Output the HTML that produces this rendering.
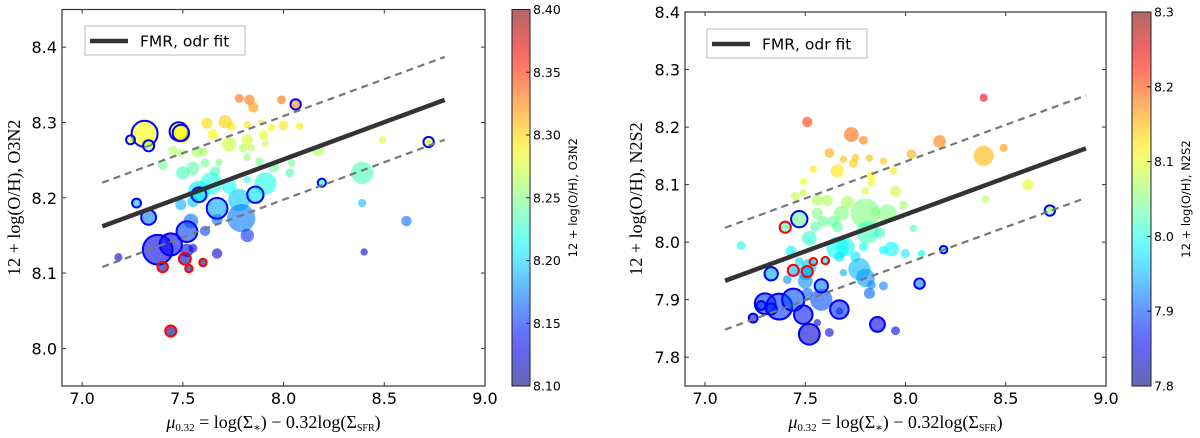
<!DOCTYPE html>
<html><head><meta charset="utf-8">
<style>
html,body{margin:0;padding:0;background:#fff;}
svg{display:block;}
.tick{font-family:"DejaVu Sans","Liberation Sans",sans-serif;font-size:16px;fill:#000;}
.cbt{font-family:"DejaVu Sans","Liberation Sans",sans-serif;font-size:12.5px;fill:#000;}
.lab{font-family:"Liberation Serif","DejaVu Serif",serif;font-size:18px;fill:#000;}
.cbl{font-family:"DejaVu Sans","Liberation Sans",sans-serif;font-size:11.5px;fill:#000;}
.leg{font-family:"DejaVu Sans","Liberation Sans",sans-serif;font-size:15.5px;fill:#000;}
</style></head>
<body>
<svg id="fig" width="1200" height="438" viewBox="0 0 1200 438" xmlns="http://www.w3.org/2000/svg"></svg>
<script>
// ---------- DATA ----------
const xTicks = [7.0, 7.5, 8.0, 8.5, 9.0];
const xTickLabels = ["7.0", "7.5", "8.0", "8.5", "9.0"];
const leftYTicks = [8.0, 8.1, 8.2, 8.3, 8.4];
const leftYTickLabels = ["8.0", "8.1", "8.2", "8.3", "8.4"];
const leftCbTicks = [8.10, 8.15, 8.20, 8.25, 8.30, 8.35, 8.40];
const leftCbLabels = ["8.10", "8.15", "8.20", "8.25", "8.30", "8.35", "8.40"];
const rightYTicks = [7.8, 7.9, 8.0, 8.1, 8.2, 8.3, 8.4];
const rightYTickLabels = ["7.8", "7.9", "8.0", "8.1", "8.2", "8.3", "8.4"];
const rightCbTicks = [7.8, 7.9, 8.0, 8.1, 8.2, 8.3];
const rightCbLabels = ["7.8", "7.9", "8.0", "8.1", "8.2", "8.3"];

// fit lines: [x0, y0, x1, y1]
const leftFit = [7.1, 8.162, 8.8, 8.330];
const leftUpper = [7.1, 8.220, 8.8, 8.387];
const leftLower = [7.1, 8.108, 8.8, 8.277];
const rightFit = [7.1, 7.933, 8.9, 8.163];
const rightUpper = [7.1, 8.025, 8.9, 8.255];
const rightLower = [7.1, 7.848, 8.9, 8.077];

// points: [x, y, size]
const leftPlain = [
[7.78,8.332,12],[7.83,8.33,14],[7.85,8.32,14],[7.99,8.33,12],[7.62,8.299,15],[7.71,8.301,18],[7.74,8.295,12],
[7.82,8.297,10],[7.89,8.30,8],[7.94,8.293,10],[8.0,8.296,13],[8.08,8.295,10],[7.65,8.284,15],[7.73,8.271,20],
[7.82,8.277,15],[7.9,8.283,13],[7.91,8.272,9],[7.51,8.277,12],[7.45,8.263,12],[7.49,8.259,10],[7.57,8.261,15],
[7.6,8.261,12],[7.8,8.266,12],[7.84,8.266,10],[7.4,8.244,14],[7.5,8.233,18],[7.55,8.239,18],[7.61,8.246,12],
[7.66,8.235,14],[7.68,8.247,10],[7.82,8.254,10],[7.88,8.248,12],[7.95,8.241,15],[8.04,8.246,10],[8.03,8.233,12],
[8.17,8.263,15],[8.49,8.277,10],[8.39,8.233,30],[7.58,8.208,30],[7.64,8.219,30],[7.73,8.215,20],[7.82,8.224,10],
[7.91,8.219,30],[7.49,8.191,15],[7.55,8.195,15],[7.78,8.197,30],[7.79,8.173,38],[7.67,8.171,15],[7.54,8.169,20],
[7.61,8.156,14],[7.82,8.15,18],[7.55,8.133,12],[7.67,8.126,14],[7.18,8.121,11],[8.39,8.193,11],[8.61,8.169,14],
[8.40,8.128,10],[7.52,8.13,18]
];
const leftBlue = [
[7.31,8.285,35],[7.24,8.277,12],[7.33,8.269,15],[7.48,8.288,25],[7.49,8.286,22],[8.06,8.324,14],[8.72,8.274,14],
[8.19,8.22,11],[7.27,8.193,12],[7.33,8.174,20],[7.58,8.204,20],[7.67,8.186,28],[7.86,8.204,22],[7.52,8.155,28],
[7.375,8.131,40],[7.44,8.138,30]
];
const leftRed = [
[7.40,8.108,14],[7.51,8.119,16],[7.53,8.106,10],[7.60,8.114,10],[7.44,8.023,15]
];
const rightPlain = [
[8.39,8.251,11],[7.51,8.209,14],[7.73,8.187,20],[7.79,8.177,12],[8.17,8.175,17],[8.39,8.15,27],[8.49,8.164,11],
[7.62,8.155,13],[7.69,8.144,10],[7.75,8.147,10],[7.82,8.146,10],[7.89,8.141,10],[8.03,8.153,13],[7.66,8.124,18],
[7.74,8.137,12],[7.54,8.127,10],[7.83,8.115,12],[7.94,8.124,10],[7.49,8.105,10],[7.83,8.103,10],[8.61,8.099,15],
[7.45,8.08,12],[7.49,8.086,10],[7.8,8.089,10],[7.95,8.088,15],[8.4,8.075,10],[7.56,8.073,15],[7.61,8.072,15],
[7.71,8.069,18],[7.8,8.05,40],[7.85,8.053,12],[7.91,8.05,25],[7.99,8.064,12],[7.68,8.05,20],[7.56,8.05,15],
[7.59,8.036,15],[7.64,8.036,15],[7.66,8.027,15],[7.55,8.027,14],[7.52,8.007,20],[7.81,8.017,30],[7.87,8.016,15],
[7.79,7.992,12],[7.66,7.99,30],[7.7,7.992,25],[7.67,7.975,14],[7.75,7.975,14],[7.89,7.986,12],[7.93,7.988,20],
[7.999,7.98,12],[8.08,7.98,10],[8.04,8.024,10],[7.18,7.994,12],[7.43,7.984,15],[7.47,7.966,12],[7.5,7.947,20],
[7.52,7.958,20],[7.41,7.935,12],[7.5,7.932,20],[7.77,7.953,30],[7.8,7.938,25],[7.69,7.947,10],[7.83,7.926,12],
[7.89,7.924,12],[7.82,7.911,15],[7.58,7.9,30],[7.51,7.911,15],[7.56,7.86,10],[7.62,7.843,12],[7.95,7.846,12],
[7.67,7.88,10]
];
const rightBlue = [
[7.47,8.04,22],[7.33,7.945,18],[7.58,7.924,18],[7.67,7.883,25],[7.86,7.857,20],[8.07,7.928,14],[8.19,7.987,10],
[8.72,8.055,14],[7.24,7.868,12],[7.30,7.893,28],[7.28,7.89,12],[7.37,7.888,35],[7.44,7.9,30],[7.49,7.874,25],
[7.52,7.84,28],[7.33,7.884,15]
];
const rightRed = [
[7.40,8.026,15],[7.44,7.951,15],[7.51,7.949,15],[7.54,7.966,10],[7.60,7.968,10]
];

// ---------- RENDER ----------
const NS = "http://www.w3.org/2000/svg";
const svg = document.getElementById('fig');
function mk(tag, attrs, parent){
  const e = document.createElementNS(NS, tag);
  for (const k in attrs) e.setAttribute(k, attrs[k]);
  (parent||svg).appendChild(e);
  return e;
}
function jet(t){
  t = Math.max(0, Math.min(1, t));
  const r = Math.max(0, Math.min(1, 1.5 - Math.abs(4*t - 3)));
  const g = Math.max(0, Math.min(1, 1.5 - Math.abs(4*t - 2)));
  const b = Math.max(0, Math.min(1, 1.5 - Math.abs(4*t - 1)));
  return `rgb(${Math.round(r*255)},${Math.round(g*255)},${Math.round(b*255)})`;
}
const SIZE_DIV = 2.7;

function panel(cfg){
  const g = mk('g', {});
  
  
  const {L,R,T,B,x0,x1,y0,y1} = cfg;
  const sx = v => L + (v - x0) / (x1 - x0) * (R - L);
  const sy = v => B - (v - y0) / (y1 - y0) * (B - T);
  const clipId = cfg.name + '-clip';
  const cp = mk('clipPath', {id: clipId}, g);
  mk('rect', {x:L, y:T, width:R-L, height:B-T}, cp);

  const pg = mk('g', {'clip-path': `url(#${clipId})`}, g);
  
  
  const drawSet = (arr, edge, label) => {
    arr.forEach(p => {
      const c = mk('circle', {cx: sx(p[0]), cy: sy(p[1]), r: p[2]/SIZE_DIV,
        fill: jet((p[1]-cfg.c0)/(cfg.c1-cfg.c0)), 'fill-opacity': 0.6,
        stroke: edge || 'none', 'stroke-width': edge ? 2 : 0}, pg);
      
      
    });
  };
  drawSet(cfg.plain, null, 'data-point');
  drawSet(cfg.blue, '#0000ff', 'blue-edged-point');
  drawSet(cfg.red, '#ff0000', 'red-edged-point');

  const ln = (a, st, nm) => {
    const l = mk('line', Object.assign({x1:sx(a[0]), y1:sy(a[1]), x2:sx(a[2]), y2:sy(a[3])}, st), g);
    
    
  };
  ln(cfg.upper, {stroke:'#777', 'stroke-width':2.2, 'stroke-dasharray':'7,5'}, 'upper-scatter-line');
  ln(cfg.lower, {stroke:'#777', 'stroke-width':2.2, 'stroke-dasharray':'7,5'}, 'lower-scatter-line');
  ln(cfg.fit, {stroke:'#333', 'stroke-width':4.5}, 'fmr-fit-line');

  const fr = mk('rect', {x:L, y:T, width:R-L, height:B-T, fill:'none', stroke:'#333', 'stroke-width':1.2}, g);
  
  

  xTicks.forEach((v,i) => {
    const X = sx(v);
    mk('line', {x1:X, y1:B, x2:X, y2:B-4, stroke:'#333'}, g);
    mk('line', {x1:X, y1:T, x2:X, y2:T+4, stroke:'#333'}, g);
    const t = mk('text', {x:X, y:B+18, 'text-anchor':'middle', class:'tick'}, g);
    t.textContent = xTickLabels[i];
    
    
  });
  cfg.yTicks.forEach((v,i) => {
    const Y = sy(v);
    mk('line', {x1:L, y1:Y, x2:L+4, y2:Y, stroke:'#333'}, g);
    mk('line', {x1:R, y1:Y, x2:R-4, y2:Y, stroke:'#333'}, g);
    const t = mk('text', {x:L-5, y:Y+6, 'text-anchor':'end', class:'tick'}, g);
    t.textContent = cfg.yLabels[i];
    
    
  });

  const xl = mk('text', {x:(L+R)/2, y:B+42, 'text-anchor':'middle', class:'lab'}, g);
  
  
  xl.innerHTML = '<tspan font-style="italic">μ</tspan><tspan font-size="11" dy="3">0.32</tspan><tspan dy="-3"> = log(Σ</tspan><tspan font-size="11" dy="3">∗</tspan><tspan dy="-3">) − 0.32log(Σ</tspan><tspan font-size="10" dy="3">SFR</tspan><tspan dy="-3">)</tspan>';
  const yl = mk('text', {x:0, y:0, 'text-anchor':'middle', class:'lab',
    transform:`translate(${cfg.ylx},${(T+B)/2}) rotate(-90)`}, g);
  yl.textContent = cfg.ylabel;
  
  

  const lg = mk('g', {}, g);
  
  
  mk('rect', {x:cfg.lgx, y:cfg.lgy, width:160, height:29, fill:'#fff', stroke:'#bbb', 'stroke-width':1}, lg);
  mk('line', {x1:cfg.lgx+5, y1:cfg.lgy+15, x2:cfg.lgx+43, y2:cfg.lgy+15, stroke:'#333', 'stroke-width':4.5}, lg);
  const lt = mk('text', {x:cfg.lgx+55, y:cfg.lgy+20.5, class:'leg'}, lg);
  lt.textContent = 'FMR, odr fit';
  
  

  const cb = mk('g', {}, g);
  
  
  const gid = cfg.name + '-grad';
  const lgd = mk('linearGradient', {id:gid, x1:0, y1:1, x2:0, y2:0}, cb);
  for (let i=0;i<=20;i++){
    mk('stop', {offset:i/20, 'stop-color':jet(i/20), 'stop-opacity':0.6}, lgd);
  }
  const {cbL, cbR} = cfg;
  mk('rect', {x:cbL, y:T, width:cbR-cbL, height:B-T, fill:`url(#${gid})`, stroke:'#222', 'stroke-width':1}, cb);
  const cy = v => B - (v - cfg.c0) / (cfg.c1 - cfg.c0) * (B - T);
  cfg.cbTicks.forEach((v,i) => {
    const Y = cy(v);
    mk('line', {x1:cbR, y1:Y, x2:cbR-4, y2:Y, stroke:'#222'}, cb);
    const t = mk('text', {x:cbR+3, y:Y+4.5, class:'cbt'}, cb);
    t.textContent = cfg.cbLabels[i];
    
    
  });
  const ct = mk('text', {x:0, y:0, 'text-anchor':'middle', class:'cbl',
    transform:`translate(${cfg.cblx},${(T+B)/2}) rotate(-90)`}, cb);
  ct.textContent = cfg.cbTitle;
  
  
}

panel({name:'o3n2-panel', L:62, R:485, T:9.5, B:386, x0:6.9, x1:9.0, y0:7.95, y1:8.45,
  c0:8.10, c1:8.40, plain:leftPlain, blue:leftBlue, red:leftRed,
  fit:leftFit, upper:leftUpper, lower:leftLower,
  yTicks:leftYTicks, yLabels:leftYTickLabels, cbTicks:leftCbTicks, cbLabels:leftCbLabels,
  ylabel:'12 + log(O/H), O3N2', ylx:20, lgx:85, lgy:26, cbL:512, cbR:530, cblx:577,
  cbTitle:'12 + log(O/H), O3N2'});
panel({name:'n2s2-panel', L:685, R:1106, T:12, B:386, x0:6.9, x1:9.0, y0:7.75, y1:8.4,
  c0:7.8, c1:8.3, plain:rightPlain, blue:rightBlue, red:rightRed,
  fit:rightFit, upper:rightUpper, lower:rightLower,
  yTicks:rightYTicks, yLabels:rightYTickLabels, cbTicks:rightCbTicks, cbLabels:rightCbLabels,
  ylabel:'12 + log(O/H), N2S2', ylx:642, lgx:707, lgy:29, cbL:1132, cbR:1151, cblx:1190,
  cbTitle:'12 + log(O/H), N2S2'});
</script>
</body></html>
